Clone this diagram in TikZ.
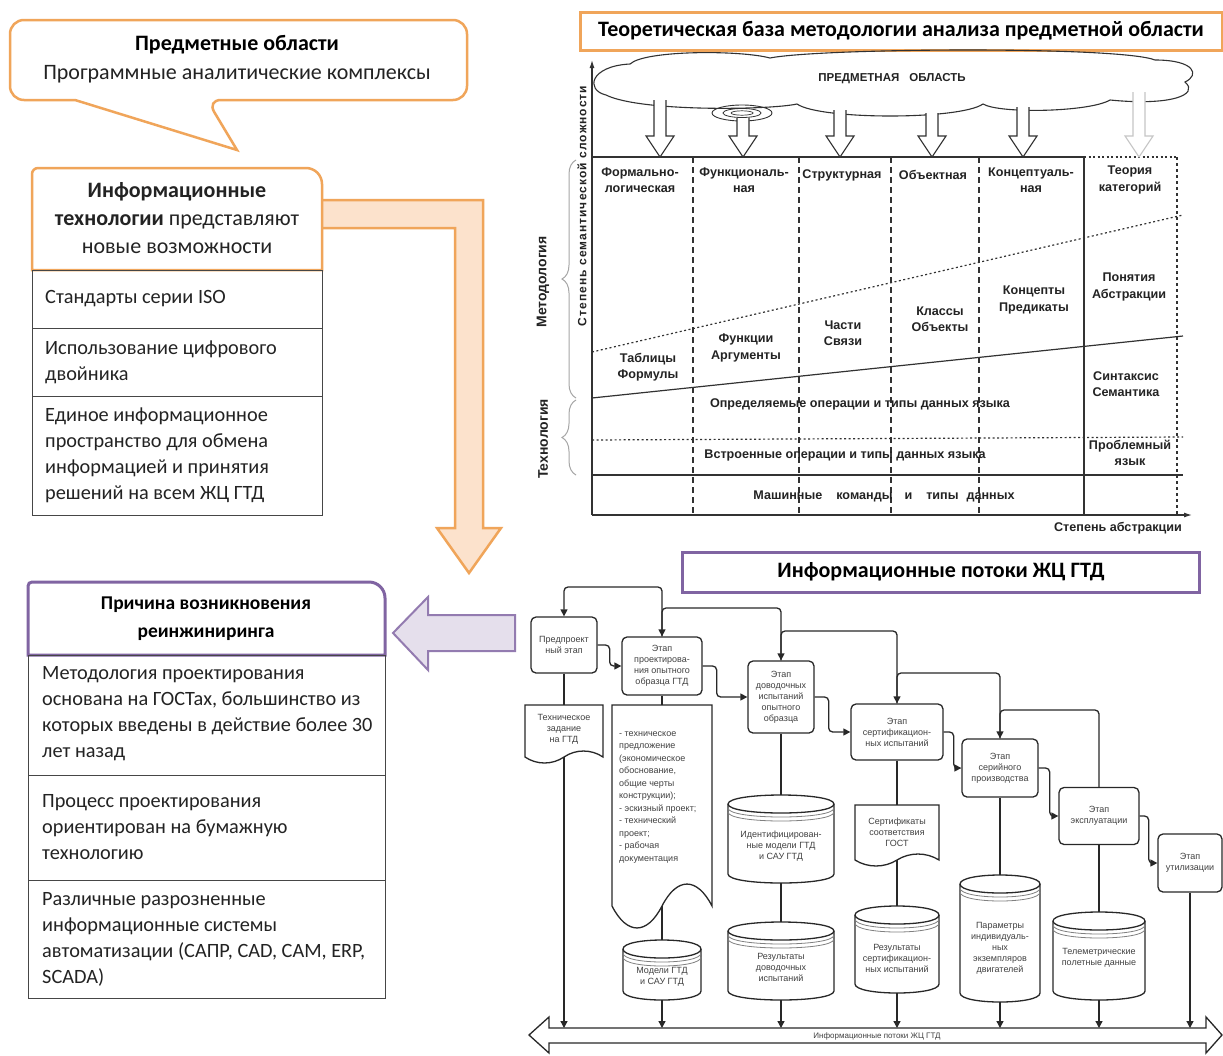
\documentclass[tikz,border=0pt]{standalone}
\usepackage{fontspec}
\setmainfont{Carlito}
\newfontfamily\arialf{Liberation Sans}
\newfontfamily\arialsp[LetterSpace=9]{Liberation Sans}
\usetikzlibrary{arrows.meta,decorations.pathreplacing,calc}

\definecolor{orng}{RGB}{240,165,90}
\definecolor{orngfill}{RGB}{252,226,204}
\definecolor{purp}{RGB}{128,100,162}
\definecolor{purpfill}{RGB}{229,223,236}
\definecolor{tblc}{RGB}{70,70,70}
\definecolor{txtc}{RGB}{35,35,35}
\definecolor{chc}{RGB}{50,50,50}
\definecolor{flc}{RGB}{40,40,40}
\definecolor{flt}{RGB}{65,65,65}

\tikzset{
  bigb/.style={font=\bfseries\fontsize{19.5}{28}\selectfont, text=black, align=center, inner sep=0},
  big/.style={font=\fontsize{22}{28}\selectfont, text=txtc, align=center, inner sep=0},
  cell/.style={draw=tblc, line width=1.4, anchor=north west, inner sep=0},
  celltext/.style={font=\fontsize{20.3}{26}\selectfont, text=txtc, anchor=west, align=left, inner sep=0},
  chart/.style={draw=chc, line width=1.2},
  chtext/.style={font=\arialf\bfseries\fontsize{12.6}{16.5}\selectfont, text=txtc, align=center, inner sep=0},
  dashv/.style={chart, dash pattern=on 6pt off 4pt},
  dotl/.style={chart, dash pattern=on 2pt off 2.5pt},
  fline/.style={draw=flc, line width=1.3},
  farrow/.style={fline, -{Triangle[length=7pt,width=7pt]}},
  stagebox/.style={draw=flc, line width=1.3, rounded corners=5, fill=white, font=\arialf\fontsize{9}{11}\selectfont, text=flt, align=center, inner sep=0},
  ftext/.style={font=\arialf\fontsize{9}{11}\selectfont, text=flt, align=center, inner sep=0},
}

% block arrow from cloud: x, top y, colour
\newcommand{\dblock}[3]{\draw[#3, line width=1.1, fill=white] (#1-6,#2) -- (#1-6,136) -- (#1-14,136) -- (#1,157) -- (#1+14,136) -- (#1+6,136) -- (#1+6,#2);}
% document shape: name L R T B amplitude
\newcommand{\docshape}[6]{%
  \draw[fline, fill=white] (#2,#5) -- (#2,#4) -- (#3,#4) -- (#3,#5)
   .. controls ({#3-0.15*(#3-#2)},{#5-1.33*#6}) and ({#3-0.35*(#3-#2)},{#5-1.33*#6}) .. ({(#2+#3)/2},#5)
   .. controls ({#2+0.35*(#3-#2)},{#5+1.33*#6}) and ({#2+0.15*(#3-#2)},{#5+1.33*#6}) .. (#2,#5) -- cycle;
  \node[inner sep=0, minimum width={#3-#2}, minimum height={#5-#4}] (#1) at ({(#2+#3)/2},{(#4+#5)/2}) {};
}
% database cylinder: name cx T B w
\newcommand{\dbshape}[5]{%
  \draw[fline, fill=white] ({#2-#5/2},{#3+9}) -- ({#2-#5/2},{#4-9})
    .. controls ({#2-#5/2},{#4+3}) and ({#2+#5/2},{#4+3}) .. ({#2+#5/2},{#4-9})
    -- ({#2+#5/2},{#3+9})
    .. controls ({#2+#5/2},{#3-3}) and ({#2-#5/2},{#3-3}) .. ({#2-#5/2},{#3+9}) -- cycle;
  \draw[fline] ({#2-#5/2},{#3+9}) .. controls ({#2-#5/2},{#3+21}) and ({#2+#5/2},{#3+21}) .. ({#2+#5/2},{#3+9});
  \draw[draw=gray, line width=0.8] ({#2-#5/2},{#3+13}) .. controls ({#2-#5/2},{#3+25}) and ({#2+#5/2},{#3+25}) .. ({#2+#5/2},{#3+13});
  \draw[draw=gray, line width=0.8] ({#2-#5/2},{#3+17}) .. controls ({#2-#5/2},{#3+29}) and ({#2+#5/2},{#3+29}) .. ({#2+#5/2},{#3+17});
  \node[inner sep=0, minimum width=#5, minimum height={#4-#3}] (#1) at (#2,{(#3+#4)/2}) {};
}

\begin{document}
\begin{tikzpicture}[x=1pt,y=-1pt]
\useasboundingbox[fill=white] (0,0) rectangle (1223,1055);

%================ LEFT SIDE =================
% callout
\draw[orng, line width=2.5, fill=white] (10,60) [rounded corners=14]-- (10,20) -- (467,20) -- (467,100) -- (207,100) [sharp corners]-- (237,150) -- (75,100) [rounded corners=14]-- (10,100) -- cycle;
\node[bigb, font=\bfseries\fontsize{22}{28}\selectfont] (pa) at (237,45) {Предметные области};
\node[big] (pak) at (237,74) {Программные аналитические комплексы};

% bent orange arrow
\draw[orng, line width=2.5, fill=orngfill] (300,200) -- (483,200) -- (483,528) -- (501,528) -- (469,573) -- (437,528) -- (455,528) -- (455,228) -- (300,228);

% info technologies box
\draw[orng, line width=2.5, fill=white] (32,270) [rounded corners=6]-- (32,168) [rounded corners=16]-- (322,168) [sharp corners]-- (322,270) -- cycle;
\node[big] (it) at (177,218) {\textbf{Информационные}\\\textbf{технологии} представляют\\новые возможности};

\node[cell, minimum width=290, minimum height=58] (r1) at (32,270) {};
\node[celltext] (r1t) at (45,299) {Стандарты серии ISO};
\node[cell, minimum width=290, minimum height=68] (r2) at (32,328) {};
\node[celltext] (r2t) at (45,362) {Использование цифрового\\двойника};
\node[cell, minimum width=290, minimum height=119] (r3) at (32,396) {};
\node[celltext] (r3t) at (45,455) {Единое информационное\\пространство для обмена\\информацией и принятия\\решений на всем ЖЦ ГТД};

% purple arrow
\draw[purp!85, line width=2, fill=purpfill] (393,633) -- (428,597) -- (428,615) -- (515,615) -- (515,651) -- (428,651) -- (428,670) -- cycle;

% reason box
\draw[purp, line width=3, fill=white] (28,655) [rounded corners=4]-- (28,582) [rounded corners=16]-- (385,582) [sharp corners]-- (385,655) -- cycle;
\node[bigb] (pr) at (206,619) {Причина возникновения\\реинжиниринга};

\node[cell, minimum width=357, minimum height=120] (p1) at (28,655) {};
\node[celltext] (p1t) at (42,714) {Методология проектирования\\основана на ГОСТах, большинство из\\которых введены в действие более 30\\лет назад};
\node[cell, minimum width=357, minimum height=105] (p2) at (28,775) {};
\node[celltext] (p2t) at (42,827) {Процесс проектирования\\ориентирован на бумажную\\технологию};
\node[cell, minimum width=357, minimum height=118] (p3) at (28,880) {};
\node[celltext] (p3t) at (42,939) {Различные разрозненные\\информационные системы\\автоматизации (САПР, CAD, CAM, ERP,\\SCADA)};

%================ TOP RIGHT CHART =================
\node[draw=orng, line width=3, fill=white, minimum width=642, minimum height=38, inner sep=0, font=\bfseries\fontsize{22}{24}\selectfont] (tt) at (901,31) {Теоретическая база методологии анализа предметной области};

% cloud
\draw[chc, line width=1.1] (606,95)
  .. controls (585,90) and (590,66) .. (630,64)
  .. controls (645,50) and (740,50) .. (770,58)
  .. controls (820,48) and (1120,46) .. (1155,60)
  .. controls (1195,60) and (1200,75) .. (1185,82)
  .. controls (1200,95) and (1170,106) .. (1110,100)
  .. controls (1090,112) and (1000,114) .. (983,104)
  .. controls (960,120) and (820,120) .. (797,104)
  .. controls (770,110) and (640,112) .. (606,95) -- cycle;
\node[chtext, font=\arialf\bfseries\fontsize{11.5}{13}\selectfont] (cl) at (892,79) {ПРЕДМЕТНАЯ\hspace{10pt}ОБЛАСТЬ};
\draw[chc, line width=0.9] (742,113) ellipse [x radius=30, y radius=8];
\draw[chc, line width=0.8] (742,113) ellipse [x radius=19, y radius=4.5];
\draw[chc, line width=0.7] (742,113) ellipse [x radius=11, y radius=2.2];

% axes
\coordinate (O) at (592,515);
\draw[chart, -{Latex[length=8pt,width=5pt]}] (O) -- (592,60) coordinate (Ytop);
\draw[chart, -{Latex[length=8pt,width=5pt]}] (O) -- (1192,515) coordinate (Xend);

% grid
\draw[chart] (592,157) -- (1084,157);
\draw[dotl] (1084,157) -- (1177,157);
\foreach \xx in {693,799,891,979} \draw[dashv] (\xx,157) -- (\xx,515);
\draw[chart] (1084,157) -- (1084,515);
\draw[chart, dash pattern=on 3pt off 3pt] (1177,157) -- (1177,515);
\draw[dotl] (592,352) -- (1183,215);
\draw[chart] (592,398) -- (1183,336);
\draw[dotl] (592,440) -- (1183,437);
\draw[chart] (592,475) -- (1183,475);

% block arrows
\dblock{660}{100}{draw=chc}
\dblock{743}{118}{draw=chc}
\dblock{840}{110}{draw=chc}
\dblock{932}{113}{draw=chc}
\dblock{1023}{107}{draw=chc}
\dblock{1139}{92}{draw=gray!45}

% headers
\node[chtext] (h1) at (640,180) {Формально-\\логическая};
\node[chtext] (h2) at (744,180) {Функциональ-\\ная};
\node[chtext] (h3) at (842,175) {Структурная};
\node[chtext] (h4) at (933,175) {Объектная};
\node[chtext] (h5) at (1031,180) {Концептуаль-\\ная};
\node[chtext] (h6) at (1130,180) {Теория\\категорий};

\node[chtext] (b1) at (1129,287) {Понятия\\Абстракции};
\node[chtext] (b2) at (1034,300) {Концепты\\Предикаты};
\node[chtext] (b3) at (940,319) {Классы\\Объекты};
\node[chtext] (b4) at (843,333) {Части\\Связи};
\node[chtext] (b5) at (746,348) {Функции\\Аргументы};
\node[chtext] (b6) at (648,367) {Таблицы\\Формулы};
\node[chtext] (b7) at (1126,384) {Синтаксис\\Семантика};
\node[chtext] (b8) at (860,404) {Определяемые операции и типы данных языка};
\node[chtext] (b9) at (1130,453) {Проблемный\\язык};
\node[chtext] (b10) at (845,455) {Встроенные операции и типы данных языка};
\node[chtext] (b11) at (884,496) {Машинные\hspace{14pt}команды\hspace{12pt}и\hspace{14pt}типы\hspace{8pt}данных};
\node[chtext] (xl) at (1118,528) {Степень абстракции};

% left labels and braces
\node[font=\arialsp\bfseries\fontsize{12}{13}\selectfont, text=txtc, rotate=90, inner sep=0] (yl) at (582,206) {Степень семантической сложности};
\node[chtext, font=\arialf\bfseries\fontsize{14}{16}\selectfont, rotate=90] (ml) at (543,282) {Методология};
\node[chtext, font=\arialf\bfseries\fontsize{14}{16}\selectfont, rotate=90] (tl) at (543,439) {Технология};
\draw[gray!70, line width=1, decorate, decoration={brace, amplitude=14pt}] (576,398) -- (576,160);
\draw[gray!70, line width=1, decorate, decoration={brace, amplitude=14pt}] (576,475) -- (576,400);

%================ FLOW CHART =================
\node[draw=purp, line width=3, fill=white, minimum width=517, minimum height=40, inner sep=0, font=\bfseries\fontsize{22}{24}\selectfont] (ft) at (941,572) {Информационные потоки ЖЦ ГТД};

% bus
\draw[fline, fill=white] (529,1035) -- (549,1017) -- (549,1028) -- (1206,1028) -- (1206,1017) -- (1222,1035) -- (1206,1053) -- (1206,1043) -- (549,1043) -- (549,1053) -- cycle;
\node[ftext, font=\arialf\fontsize{8}{9}\selectfont] (busl) at (877,1036) {Информационные потоки ЖЦ ГТД};
\coordinate (bt) at (0,1028);

% stages
\node[stagebox, minimum width=66, minimum height=56] (st1) at (564,645) {Предпроект\\ный этап};
\node[stagebox, minimum width=80, minimum height=58] (st2) at (662,666) {Этап\\проектирова-\\ния опытного\\образца ГТД};
\node[stagebox, minimum width=66, minimum height=72] (st3) at (781,697) {Этап\\доводочных\\испытаний\\опытного\\образца};
\node[stagebox, minimum width=92, minimum height=56] (st4) at (897,732) {Этап\\сертификацион-\\ных испытаний};
\node[stagebox, minimum width=76, minimum height=58] (st5) at (1000,768) {Этап\\серийного\\производства};
\node[stagebox, minimum width=80, minimum height=57] (st6) at (1099,816) {Этап\\эксплуатации};
\node[stagebox, minimum width=64, minimum height=58] (st7) at (1190,863) {Этап\\утилизации};

% documents and databases
\docshape{doc1}{525}{603}{705}{757}{6}
\node[ftext] (doc1t) at (564,729) {Техническое\\задание\\на ГТД};
\docshape{doc2}{612}{712}{705}{906}{22}
\node[ftext, align=left, anchor=north west, font=\arialf\fontsize{9}{12.5}\selectfont] (doc2t) at (619,731) {- техническое\\предложение\\(экономическое\\обоснование,\\общие черты\\конструкции);\\- эскизный проект;\\- технический\\проект;\\- рабочая\\документация};
\docshape{doc3}{855}{939}{805}{860}{6}
\node[ftext] (doc3t) at (897,832) {Сертификаты\\соответствия\\ГОСТ};

\dbshape{db1}{662}{940}{1000}{78}
\node[ftext] (db1t) at (662,977) {Модели ГТД\\и САУ ГТД};
\dbshape{db2}{781}{795}{883}{106}
\node[ftext] (db2t) at (781,846) {Идентифицирован-\\ные модели ГТД\\и САУ ГТД};
\dbshape{db3}{781}{922}{1000}{106}
\node[ftext] (db3t) at (781,967) {Результаты\\доводочных\\испытаний};
\dbshape{db4}{897}{906}{993}{84}
\node[ftext] (db4t) at (897,958) {Результаты\\сертификацион-\\ных испытаний};
\dbshape{db5}{1000}{875}{1002}{80}
\node[ftext] (db5t) at (1000,948) {Параметры\\индивидуаль-\\ных\\экземпляров\\двигателей};
\dbshape{db6}{1099}{912}{1000}{92}
\node[ftext] (db6t) at (1099,958) {Телеметрические\\полетные данные};

% vertical links
\draw[fline] (st1.south) -- (doc1.north);
\draw[farrow] (doc1.south) -- (doc1.south |- bt);
\draw[fline] (st2.south) -- (doc2.north);
\draw[fline] (doc2.south) -- (db1.north);
\draw[farrow] (db1.south) -- (db1.south |- bt);
\draw[fline] (st3.south) -- (db2.north);
\draw[fline] (db2.south) -- (db3.north);
\draw[farrow] (db3.south) -- (db3.south |- bt);
\draw[fline] (st4.south) -- (doc3.north);
\draw[fline] (doc3.south) -- (db4.north);
\draw[farrow] (db4.south) -- (db4.south |- bt);
\draw[fline] (st5.south) -- (db5.north);
\draw[farrow] (db5.south) -- (db5.south |- bt);
\draw[fline] (st6.south) -- (db6.north);
\draw[farrow] (db6.south) -- (db6.south |- bt);
\draw[farrow] (st7.south) -- (st7.south |- bt);

% forward links
\draw[farrow, rounded corners=4] (st1.east) -- ++(12,0) |- (st2.west);
\draw[farrow, rounded corners=4] (st2.east) -- ++(14,0) |- (st3.west);
\draw[farrow, rounded corners=4] (st3.east) -- ++(14,0) |- (st4.west);
\draw[farrow, rounded corners=4] (st4.east) -- ++(10,0) |- (st5.west);
\draw[farrow, rounded corners=4] (st5.east) -- ++(11,0) |- (st6.west);
\draw[farrow, rounded corners=4] (st6.east) -- ++(9,0) |- (st7.west);

% feedback links
\coordinate (l1) at (0,587);
\coordinate (l2) at (0,608);
\coordinate (l3) at (0,631);
\coordinate (l4) at (0,673);
\coordinate (l5) at (0,710);
\draw[farrow, rounded corners=4] (st2.north) -- (st2.north |- l1) -| (st1.north);
\draw[farrow, rounded corners=4] (st3.north) -- (st3.north |- l2) -| (st2.north);
\draw[farrow, rounded corners=4] (st4.north) -- (st4.north |- l3) -| (st3.north);
\draw[farrow, rounded corners=4] (st5.north) -- (st5.north |- l4) -| (st4.north);
\draw[farrow, rounded corners=4] (st6.north) -- (st6.north |- l5) -| (st5.north);
\end{tikzpicture}
\end{document}
